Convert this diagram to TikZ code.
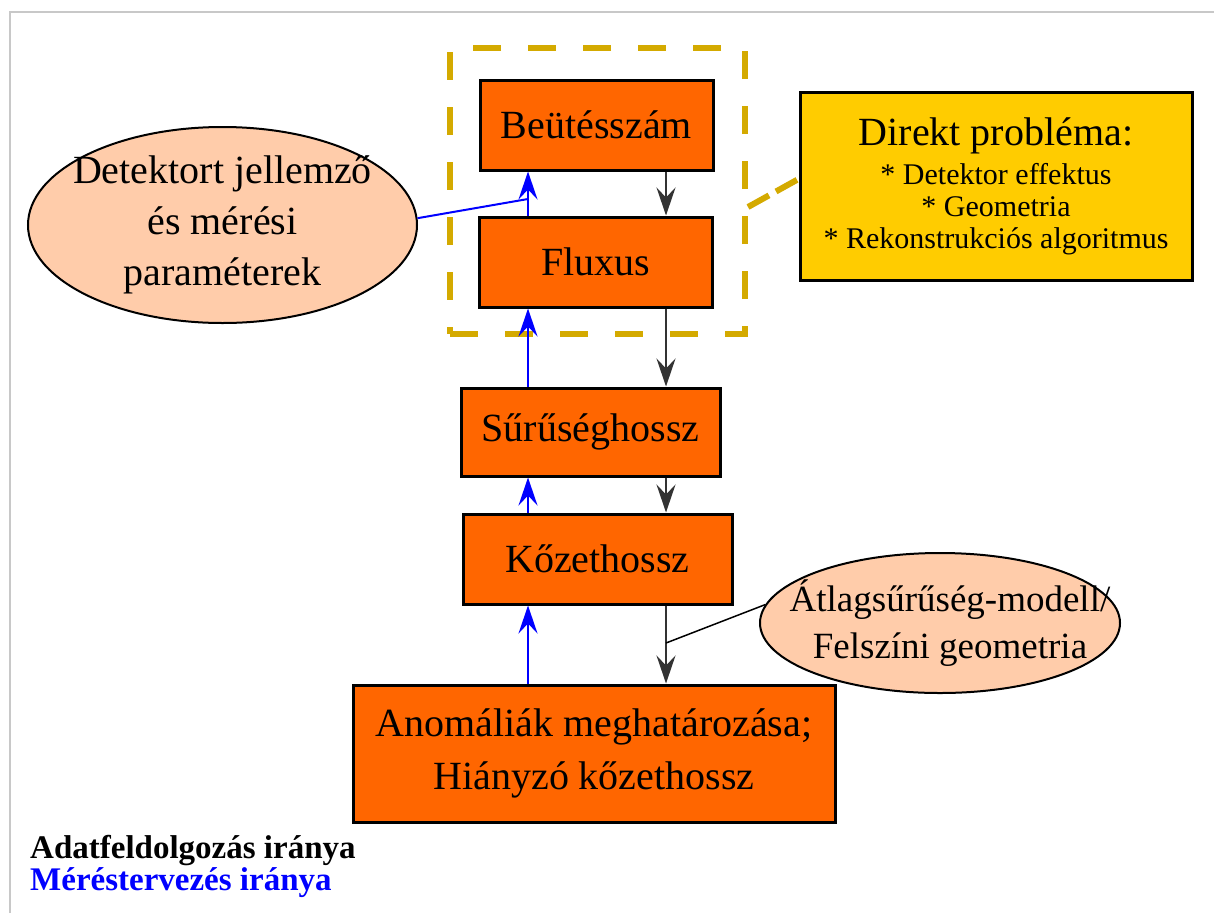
\documentclass[tikz,border=0pt]{standalone}
\usepackage{fontspec}
\setmainfont{Liberation Serif}
\usetikzlibrary{arrows.meta,shapes.geometric}
\definecolor{boxorange}{HTML}{FF6600}
\definecolor{peach}{HTML}{FFCCAA}
\definecolor{yelbox}{HTML}{FFCC00}
\definecolor{gold}{HTML}{D4AA00}
\definecolor{framegray}{HTML}{C8C8C8}
\tikzset{
  stepbox/.style={draw=black, line width=3pt, fill=boxorange, inner sep=0pt, align=center,
    font=\fontsize{40}{53}\selectfont},
  oval/.style={ellipse, draw=black, line width=2pt, fill=peach, inner sep=0pt},
  ovaltext/.style={inner sep=0pt, align=center, font=\fontsize{40}{51}\selectfont},
  notebox/.style={draw=black, line width=3pt, fill=yelbox, inner sep=0pt, align=center,
    font=\fontsize{30}{32}\selectfont},
  golddash/.style={draw=gold, line width=6pt, dash pattern=on 28pt off 27pt},
  tip/.style={-{Stealth[length=28pt,width=19pt,inset=10pt]}},
  procline/.style={draw=black!80, line width=2pt},
  planline/.style={draw=blue, line width=2pt},
}
\begin{document}
\begin{tikzpicture}[x=1pt,y=-1pt]
\useasboundingbox (0,0) rectangle (1214,913);
% frame
\draw[framegray, line width=2pt] (10,913) -- (10,12) -- (1214,12);
% dashed group box
\node[golddash, minimum width=295pt, minimum height=286pt, inner sep=0pt] (grp) at (597.5,191) {};
% boxes
\node[stepbox, minimum width=233pt, minimum height=90pt] (beut) at (596.5,125) {Beütésszám};
\node[stepbox, minimum width=233pt, minimum height=90pt] (flux) at (595.5,262) {Fluxus};
\node[stepbox, minimum width=259pt, minimum height=88pt] (suru) at (590.5,432) {Sűrűséghossz};
\node[stepbox, minimum width=269pt, minimum height=90pt] (koz) at (597.5,559) {Kőzethossz};
\node[stepbox, minimum width=482pt, minimum height=137pt] (anom) at (594,753.5) {Anomáliák meghatározása;\\Hiányzó kőzethossz};
% note box
\node[notebox, minimum width=392pt, minimum height=188pt] (yel) at (996,186) {%
  {\fontsize{40}{44}\selectfont Direkt probléma:}\\[7pt]
  * Detektor effektus\\
  * Geometria\\
  * Rekonstrukciós algoritmus};
% ellipses
\node[oval, minimum width=389pt, minimum height=196pt] (ell1) at (222.5,225) {};
\node[ovaltext] (ell1t) at (ell1.center) {Detektort jellemző\\és mérési\\paraméterek};
\node[oval, minimum width=360pt, minimum height=140pt] (ell2) at (940,623) {};
\node[ovaltext, font=\fontsize{37}{47}\selectfont] (ell2t) at ([xshift=10pt]ell2.center) {Átlagsűrűség-modell/\\Felszíni geometria};
% helper coordinates
\coordinate (bx) at (528,0);
\coordinate (kx) at (666,0);
\coordinate (j1) at (528,199);
\coordinate (j2) at (666,643);
\coordinate (g1) at (748,207);
% data processing direction (black)
\draw[procline, tip] (beut.south -| kx) -- (flux.north -| kx);
\draw[procline, tip] (flux.south -| kx) -- (suru.north -| kx);
\draw[procline, tip] (suru.south -| kx) -- (koz.north -| kx);
\draw[procline, tip] (koz.south -| kx) -- (anom.north -| kx);
\draw[black, line width=1.5pt] (ell2.174) -- (j2);
% measurement planning direction (blue)
\draw[planline, tip] (anom.north -| bx) -- (koz.south -| bx);
\draw[planline, tip] (koz.north -| bx) -- (suru.south -| bx);
\draw[planline, tip] (suru.north -| bx) -- (flux.south -| bx);
\draw[planline, tip] (flux.north -| bx) -- (beut.south -| bx);
\draw[planline] (ell1.2) -- (j1);
% gold connector
\draw[golddash, dash pattern=on 24pt off 8pt] (g1) -- (yel.west |- 0,179);
% legend
\node[anchor=base west, inner sep=0pt, font=\bfseries\fontsize{33}{32}\selectfont] (leg1) at (30,858) {Adatfeldolgozás iránya};
\node[anchor=base west, inner sep=0pt, text=blue, font=\bfseries\fontsize{33}{32}\selectfont] (leg2) at (30,890) {Méréstervezés iránya};
\end{tikzpicture}
\end{document}
